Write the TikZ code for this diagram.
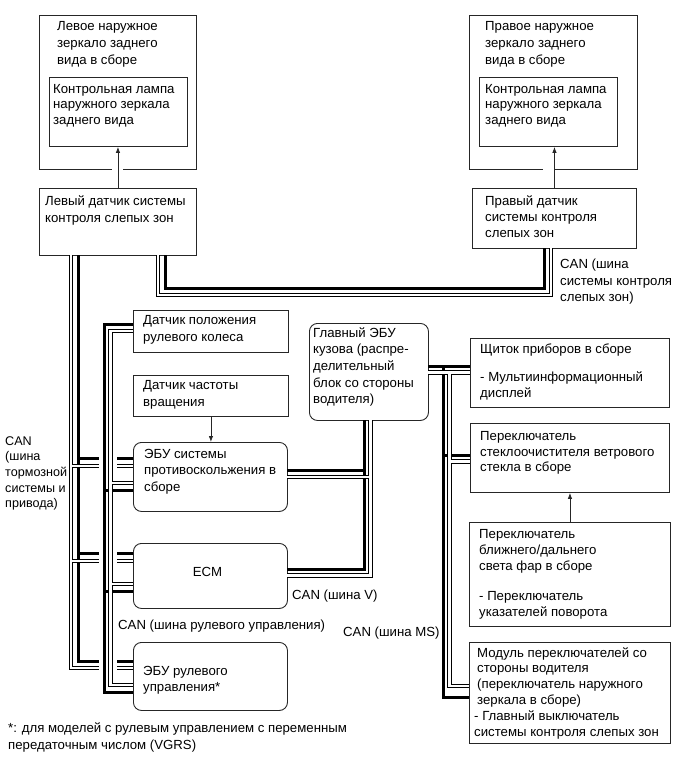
\documentclass[tikz,border=0pt]{standalone}
\usepackage{fontspec}
\setmainfont{Liberation Sans}
\usetikzlibrary{arrows.meta}
\begin{document}
\begin{tikzpicture}[x=1pt,y=-1pt,
  box/.style={draw=black!85, line width=0.9pt, inner sep=0pt, anchor=north west},
  rbox/.style={box, rounded corners=8pt},
  txt/.style={anchor=north west, yshift=10.5pt, inner sep=0pt, align=left,
    execute at begin node={\rule{0pt}{10.5pt}}, font=\fontsize{13.2}{16.3}\selectfont},
  arr/.style={draw=black!85, line width=0.8pt, -{Latex[length=6pt,width=4.5pt]}},
  hout/.style={line width=4.6pt, black},
  hin/.style={line width=2.2pt, white},
  thk/.style={line width=3pt, black},
  casing/.style={line width=18pt, white}
]
\useasboundingbox (0,0) rectangle (687,760);

% ---------- boxes ----------
\node[box, minimum width=157pt, minimum height=154pt] (lmo) at (39,15) {};
\node[box, minimum width=138pt, minimum height=69pt] (lmi) at (49,77) {};
\node[box, minimum width=168pt, minimum height=154pt] (rmo) at (469,15) {};
\node[box, minimum width=138pt, minimum height=69pt] (rmi) at (479,77) {};
\node[box, minimum width=157pt, minimum height=67pt] (lsens) at (39,188) {};
\node[box, minimum width=164pt, minimum height=60pt] (rsens) at (472,188) {};
\node[box, minimum width=155pt, minimum height=42pt] (steer) at (133,310) {};
\node[box, minimum width=155pt, minimum height=41pt] (speed) at (133,375) {};
\node[rbox, minimum width=154pt, minimum height=69pt] (skid) at (133,442) {};
\node[rbox, minimum width=154pt, minimum height=65pt] (ecm) at (133,543) {};
\node[rbox, minimum width=154pt, minimum height=68pt] (secu) at (133,642) {};
\node[rbox, minimum width=119pt, minimum height=97pt] (bcm) at (309,323) {};
\node[box, minimum width=199pt, minimum height=69pt] (meter) at (470,338) {};
\node[box, minimum width=199pt, minimum height=69pt] (wiper) at (470,423) {};
\node[box, minimum width=201pt, minimum height=104pt] (head) at (469,522) {};
\node[box, minimum width=201pt, minimum height=101pt] (sw) at (469,642) {};

% ---------- texts ----------
\node[txt, font=\fontsize{13.2}{17}\selectfont] (t1) at (57,31.5) {Левое наружное\\зеркало заднего\\вида в сборе};
\node[txt, font=\fontsize{13.2}{15.5}\selectfont] (t2) at (53,94.5) {Контрольная лампа\\наружного зеркала\\заднего вида};
\node[txt, font=\fontsize{13.2}{17}\selectfont] (t3) at (485,31.5) {Правое наружное\\зеркало заднего\\вида в сборе};
\node[txt, font=\fontsize{13.2}{15.5}\selectfont] (t4) at (485,94.5) {Контрольная лампа\\наружного зеркала\\заднего вида};
\node[txt, font=\fontsize{13.2}{17}\selectfont] (t5) at (45,206.5) {Левый датчик системы\\контроля слепых зон};
\node[txt, font=\fontsize{13.2}{15.8}\selectfont] (t6) at (485,206.5) {Правый датчик\\системы контроля\\слепых зон};
\node[txt, font=\fontsize{13.2}{17}\selectfont] (t7) at (143,325.5) {Датчик положения\\рулевого колеса};
\node[txt, font=\fontsize{13.2}{17}\selectfont] (t8) at (143,390.5) {Датчик частоты\\вращения};
\node[txt, font=\fontsize{13.2}{16.5}\selectfont] (t9) at (144,459.5) {ЭБУ системы\\противоскольжения в\\сборе};
\node[anchor=base, inner sep=0pt, font=\fontsize{13.2}{16}\selectfont] (t10) at (207.5,576.5) {ECM};
\node[txt, font=\fontsize{13.2}{16}\selectfont] (t11) at (143,676.5) {ЭБУ рулевого\\управления*};
\node[txt, font=\fontsize{13.2}{16.7}\selectfont] (t12) at (313,337.5) {Главный ЭБУ\\кузова (распре-\\делительный\\блок со стороны\\водителя)};
\node[txt, font=\fontsize{13.2}{16.2}\selectfont] (t13) at (480,354.5) {Щиток приборов в сборе\\[11.6pt]- Мультиинформационный\\дисплей};
\node[txt, font=\fontsize{13.2}{15.8}\selectfont] (t14) at (480,441.5) {Переключатель\\стеклоочистителя ветрового\\стекла в сборе};
\node[txt, font=\fontsize{13.2}{16}\selectfont] (t15) at (479,539.5) {Переключатель\\ближнего/дальнего\\света фар в сборе\\[14pt]- Переключатель\\указателей поворота};
\node[txt, font=\fontsize{13.2}{15.8}\selectfont] (t16) at (477,657.5) {Модуль переключателей со\\стороны водителя\\(переключатель наружного\\зеркала в сборе)\\\hspace*{-3pt}- Главный выключатель\\\hspace*{-3pt}системы контроля слепых зон};

\node[txt, font=\fontsize{13.2}{16.5}\selectfont] (l1) at (560,269.5) {CAN (шина\\системы контроля\\слепых зон)};
\node[txt, font=\fontsize{12.6}{15.7}\selectfont] (l2) at (5,446.5) {CAN\\(шина\\тормозной\\системы и\\привода)};
\node[txt] (l3) at (292,599.5) {CAN (шина V)};
\node[txt] (l4) at (118,629.5) {CAN (шина рулевого управления)};
\node[txt] (l5) at (343,636.5) {CAN (шина MS)};
\node[txt, font=\fontsize{13.2}{17}\selectfont] (l6) at (8,732.5) {*: для моделей с рулевым управлением с переменным\\передаточным числом (VGRS)};

% ---------- arrows ----------
\fill[white] (112,166) rectangle (123,172);
\fill[white] (543,166) rectangle (554,172);
\draw[arr] (lsens.north) -- (lsens.north |- lmi.south);
\draw[arr] (rsens.north) -- (rsens.north |- rmi.south);
\draw[arr] (speed.south) -- (speed.south |- skid.north);
\draw[arr] (head.north) -- (head.north |- wiper.south);

% ---------- CAN buses ----------
\def\AH{(158,255)--(158,295)--(551,295)--(551,248)}
\def\AT{(165,255)--(165,288)--(544,288)--(544,248)}
\def\BH{(71,255)--(71,668)--(133,668) (71,466)--(133,466) (71,561)--(133,561)}
\def\BT{(78,255)--(78,661)--(133,661) (78,458)--(133,458) (78,553)--(133,553)}
\def\DH{(370.5,420)--(370.5,575.5)--(287,575.5) (370.5,477)--(287,477)}
\def\DT{(364,420)--(364,569)--(287,569) (364,470)--(287,470)}
\def\EH{(428,372.5)--(470,372.5) (449.5,372.5)--(449.5,686)--(469,686) (449.5,461.5)--(470,461.5)}
\def\ET{(428,366)--(470,366) (443,366)--(443,697)--(469,697) (443,455)--(470,455)}
\def\CH{(133,331)--(110.5,331)--(110.5,685)--(133,685) (110.5,483)--(133,483) (110.5,584)--(133,584)}
\def\CT{(133,324)--(104,324)--(104,692)--(133,692) (104,490)--(133,490) (104,591)--(133,591)}

\draw[hout] \AH \BH \DH \EH;
\draw[thk] \AT \BT \DT \ET;
\draw[hin] \AH \BH \DH \EH;

\draw[casing] (108,345)--(108,680);
\draw[hout] \CH;
\draw[thk] \CT;
\draw[hin] \CH;
\end{tikzpicture}
\end{document}
